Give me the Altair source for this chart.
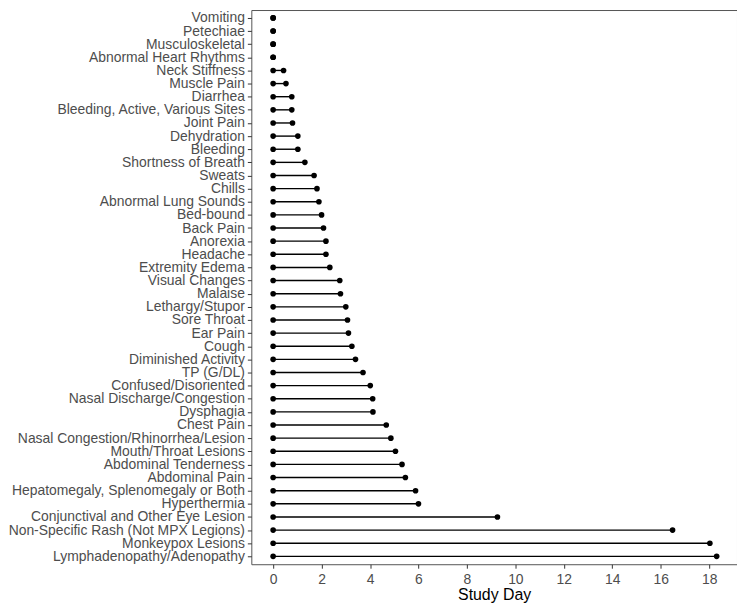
import altair as alt
import pandas as pd

symptoms = [
    "Vomiting", "Petechiae", "Musculoskeletal", "Abnormal Heart Rhythms",
    "Neck Stiffness", "Muscle Pain", "Diarrhea", "Bleeding, Active, Various Sites",
    "Joint Pain", "Dehydration", "Bleeding", "Shortness of Breath", "Sweats",
    "Chills", "Abnormal Lung Sounds", "Bed-bound", "Back Pain", "Anorexia",
    "Headache", "Extremity Edema", "Visual Changes", "Malaise", "Lethargy/Stupor",
    "Sore Throat", "Ear Pain", "Cough", "Diminished Activity", "TP (G/DL)",
    "Confused/Disoriented", "Nasal Discharge/Congestion", "Dysphagia",
    "Chest Pain", "Nasal Congestion/Rhinorrhea/Lesion", "Mouth/Throat Lesions",
    "Abdominal Tenderness", "Abdominal Pain", "Hepatomegaly, Splenomegaly or Both",
    "Hyperthermia", "Conjunctival and Other Eye Lesion",
    "Non-Specific Rash (Not MPX Legions)", "Monkeypox Lesions",
    "Lymphadenopathy/Adenopathy",
]
start_day = [0] * len(symptoms)
end_day = [
    0, 0, 0, 0,
    0.43, 0.53, 0.77, 0.77,
    0.80, 1.02, 1.02, 1.31, 1.69,
    1.81, 1.89, 2.00, 2.08, 2.18,
    2.18, 2.34, 2.75, 2.78, 3.00,
    3.07, 3.11, 3.25, 3.40, 3.71,
    4.01, 4.11, 4.12,
    4.67, 4.86, 5.05,
    5.32, 5.46, 5.88,
    6.00, 9.26,
    16.49, 18.03,
    18.31,
]
x_ticks = [0, 2, 4, 6, 8, 10, 12, 14, 16, 18]

df = pd.DataFrame({"symptom": symptoms, "start": start_day, "end": end_day})

x_scale = alt.Scale(domain=[-0.9, 19.15], nice=False, zero=False)
y_enc = alt.Y("symptom:N", sort=symptoms, title=None,
              scale=alt.Scale(type="point", padding=0.6))

base = alt.Chart(df)

rules = base.mark_rule(color="black", strokeWidth=1.4).encode(
    x=alt.X("start:Q", scale=x_scale,
            axis=alt.Axis(values=x_ticks, title="Study Day")),
    x2="end:Q",
    y=y_enc,
)
pts_start = base.mark_circle(color="black", size=32, opacity=1).encode(
    x=alt.X("start:Q", scale=x_scale), y=y_enc
)
pts_end = base.mark_circle(color="black", size=32, opacity=1).encode(
    x=alt.X("end:Q", scale=x_scale), y=y_enc
)

chart = (
    alt.layer(rules, pts_start, pts_end)
    .properties(
        width=489,
        height=558,
        autosize=alt.AutoSizeParams(type="none"),
        padding={"left": 245, "top": 0, "right": 0, "bottom": 38},
    )
    .configure_view(stroke="#555555", strokeWidth=1)
    .configure_axis(
        grid=False,
        domain=False,
        ticks=True,
        tickColor="#333333",
        tickSize=4,
        labelFont="Liberation Sans",
        labelFontSize=14,
        labelColor="#4d4d4d",
        labelLimit=0,
        titleFont="Liberation Sans",
        titleFontSize=16,
        titleFontWeight="normal",
        titleColor="black",
    )
    .configure_axisY(labelPadding=3)
    .configure_axisX(labelPadding=4, titlePadding=1)
)

chart.save("out.html", embed_options={"renderer": "svg", "actions": False})
